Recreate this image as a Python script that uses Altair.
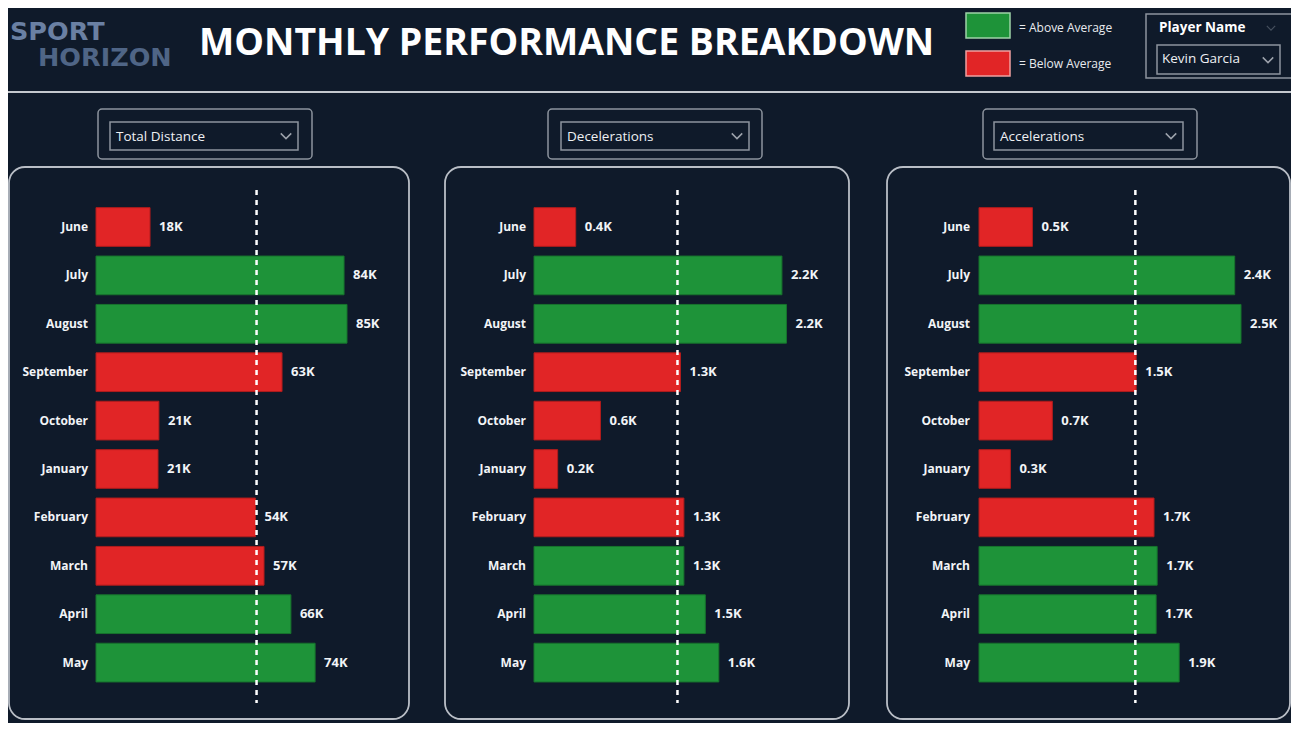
import altair as alt
import pandas as pd

# ---------------- data ----------------
months = ["June", "July", "August", "September", "October",
          "January", "February", "March", "April", "May"]

total_distance = [18300, 84000, 85000, 63000, 21300, 21000, 54000, 56900, 66000, 74200]
distance_status = ["Below", "Above", "Above", "Below", "Below",
                   "Below", "Below", "Below", "Above", "Above"]

decelerations = [370, 2200, 2240, 1300, 590, 210, 1330, 1330, 1520, 1640]
decel_status = ["Below", "Above", "Above", "Below", "Below",
                "Below", "Below", "Above", "Above", "Above"]

accelerations = [510, 2440, 2500, 1500, 700, 300, 1670, 1700, 1690, 1910]
accel_status = ["Below", "Above", "Above", "Below", "Below",
                "Below", "Below", "Above", "Above", "Above"]

metric_names = ["Total Distance", "Decelerations", "Accelerations"]
player_name = "Kevin Garcia"
title_text = "MONTHLY PERFORMANCE BREAKDOWN"

# ---------------- style ----------------
BG = "#0f1a2a"
GREEN = "#1e9339"
GREEN_EDGE = "#17732d"
RED = "#e12526"
RED_EDGE = "#b01c1c"
FONT = "Open Sans"
FRAME = "#b9bec6"
BOX = "#8d949e"
OFF = 8                      # page margin: page pixel p -> chart pixel p - OFF
W, H = 1299 - 2 * OFF, 731 - 2 * OFF

one = pd.DataFrame({"k": [0]})


def base():
    return alt.Chart(one)


def px(v):
    return v - OFF


def rect(x, x2, y, y2, stroke, sw=1.5, radius=0, fill="transparent"):
    return base().mark_rect(fill=fill, stroke=stroke, strokeWidth=sw,
                            cornerRadius=radius).encode(
        x=alt.value(px(x)), x2=alt.value(px(x2)), y=alt.value(px(y)), y2=alt.value(px(y2)))


def text(t, x, y, size, color="white", weight="normal", align="left", font=FONT):
    return base().mark_text(text=t, fontSize=size, fontWeight=weight, color=color,
                            align=align, baseline="middle", font=font).encode(
        x=alt.value(px(x)), y=alt.value(px(y)))


def chevron(x, y, size=110, color="#d8dce2", sw=1.5):
    return base().mark_point(shape="M -1 -0.5 L 0 0.5 L 1 -0.5", filled=False,
                             size=size, stroke=color, strokeWidth=sw).encode(
        x=alt.value(px(x)), y=alt.value(px(y)))


layers = []

# ---------------- header ----------------
layers.append(text("SPORT", 10, 31.5, 25.5, color="#6a80a3", weight="bold", font="DejaVu Sans"))
layers.append(text("HORIZON", 38, 58, 25.5, color="#4f6586", weight="bold", font="DejaVu Sans"))
layers.append(text(title_text, 199, 44, 37.4, weight="bold"))

# legend
layers.append(rect(966, 1010, 13, 38, "#9fd3a8", 1.5, fill=GREEN))
layers.append(text("= Above Average", 1019, 28, 12, color="#e8eaee"))
layers.append(rect(966, 1010, 51, 76, "#f0a0a0", 1.5, fill=RED))
layers.append(text("= Below Average", 1019, 64, 12, color="#e8eaee"))

# player slicer
layers.append(rect(1146, 1292, 14, 78, BOX, 1.5))
layers.append(text("Player Name", 1159, 28, 13.5, weight="bold"))
layers.append(chevron(1271, 28, size=70, color="#5d6775", sw=1.2))
layers.append(rect(1157, 1280, 45, 74, BOX, 1.5))
layers.append(text(player_name, 1162, 59, 13.5, color="#eef0f3"))
layers.append(chevron(1268, 60))

# separator
layers.append(base().mark_rule(color="#c4c8ce", strokeWidth=2).encode(
    x=alt.value(px(5)), x2=alt.value(px(1292)), y=alt.value(px(92))))

# ---------------- panels ----------------
panels = [
    dict(values=total_distance, status=distance_status, name=metric_names[0],
         fmt=".0f", domain=[0, 100000], x0=96, width=295.3,
         frame=(9, 409), drop=(98, 312), inner=(110, 298), lab=88),
    dict(values=decelerations, status=decel_status, name=metric_names[1],
         fmt=".1f", domain=[0, 2500], x0=534, width=281.75,
         frame=(445, 849), drop=(548, 762), inner=(561, 749), lab=526),
    dict(values=accelerations, status=accel_status, name=metric_names[2],
         fmt=".1f", domain=[0, 2500], x0=979, width=262.0,
         frame=(887, 1290), drop=(983, 1197), inner=(994, 1183), lab=970),
]

Y0, Y1 = px(202.8), px(686.8)

for p in panels:
    df = pd.DataFrame({"month": months, "value": p["values"], "status": p["status"]})
    xs = alt.Scale(domain=p["domain"], range=[px(p["x0"]), px(p["x0"] + p["width"])],
                   nice=False, zero=True)
    ys = alt.Scale(domain=months, range=[Y0, Y1], paddingInner=0.2, paddingOuter=0.1)
    X = alt.X("value:Q", scale=xs, axis=None)
    Y = alt.Y("month:N", scale=ys, axis=None, sort=months)

    # frames and dropdown
    layers.append(rect(p["frame"][0], p["frame"][1], 167, 719, FRAME, 1.8, radius=16))
    layers.append(rect(p["drop"][0], p["drop"][1], 109, 159, BOX, 1.5, radius=4))
    layers.append(rect(p["inner"][0], p["inner"][1], 122, 150, BOX, 1.5))
    layers.append(text(p["name"], p["inner"][0] + 6, 137, 13.5, color="#eef0f3"))
    layers.append(chevron(p["inner"][1] - 12, 136))

    bars = alt.Chart(df).mark_bar(strokeWidth=1).encode(
        x=X, y=Y,
        fill=alt.Fill("status:N", scale=alt.Scale(domain=["Above", "Below"], range=[GREEN, RED]), legend=None),
        stroke=alt.Stroke("status:N", scale=alt.Scale(domain=["Above", "Below"], range=[GREEN_EDGE, RED_EDGE]), legend=None),
    )
    vals = alt.Chart(df).transform_calculate(
        lbl="format(datum.value / 1000, '" + p["fmt"] + "') + 'K'"
    ).mark_text(align="left", baseline="middle", dx=9, fontSize=13, fontWeight="bold",
                color="#f2f4f7", font=FONT).encode(x=X, y=Y, text="lbl:N")
    mlab = alt.Chart(df).mark_text(align="right", baseline="middle", fontSize=12,
                                   fontWeight="bold", color="#f2f4f7", font=FONT).encode(
        x=alt.value(px(p["lab"])), y=Y, text="month:N")
    avg = alt.Chart(df).mark_rule(color="white", strokeWidth=2.5, strokeDash=[5, 5]).encode(
        x=alt.X("mean(value):Q", scale=xs, axis=None),
        y=alt.value(px(190)), y2=alt.value(px(703)))
    layers += [bars, vals, mlab, avg]

chart = alt.layer(*layers).resolve_scale(
    x="independent", y="independent", fill="independent", stroke="independent"
).properties(
    width=W, height=H,
    background=BG,
    padding=0,
    autosize=alt.AutoSizeParams(type="none"),
).configure_view(stroke=None)

chart.save("out.html", embed_options={"renderer": "svg", "actions": False})
